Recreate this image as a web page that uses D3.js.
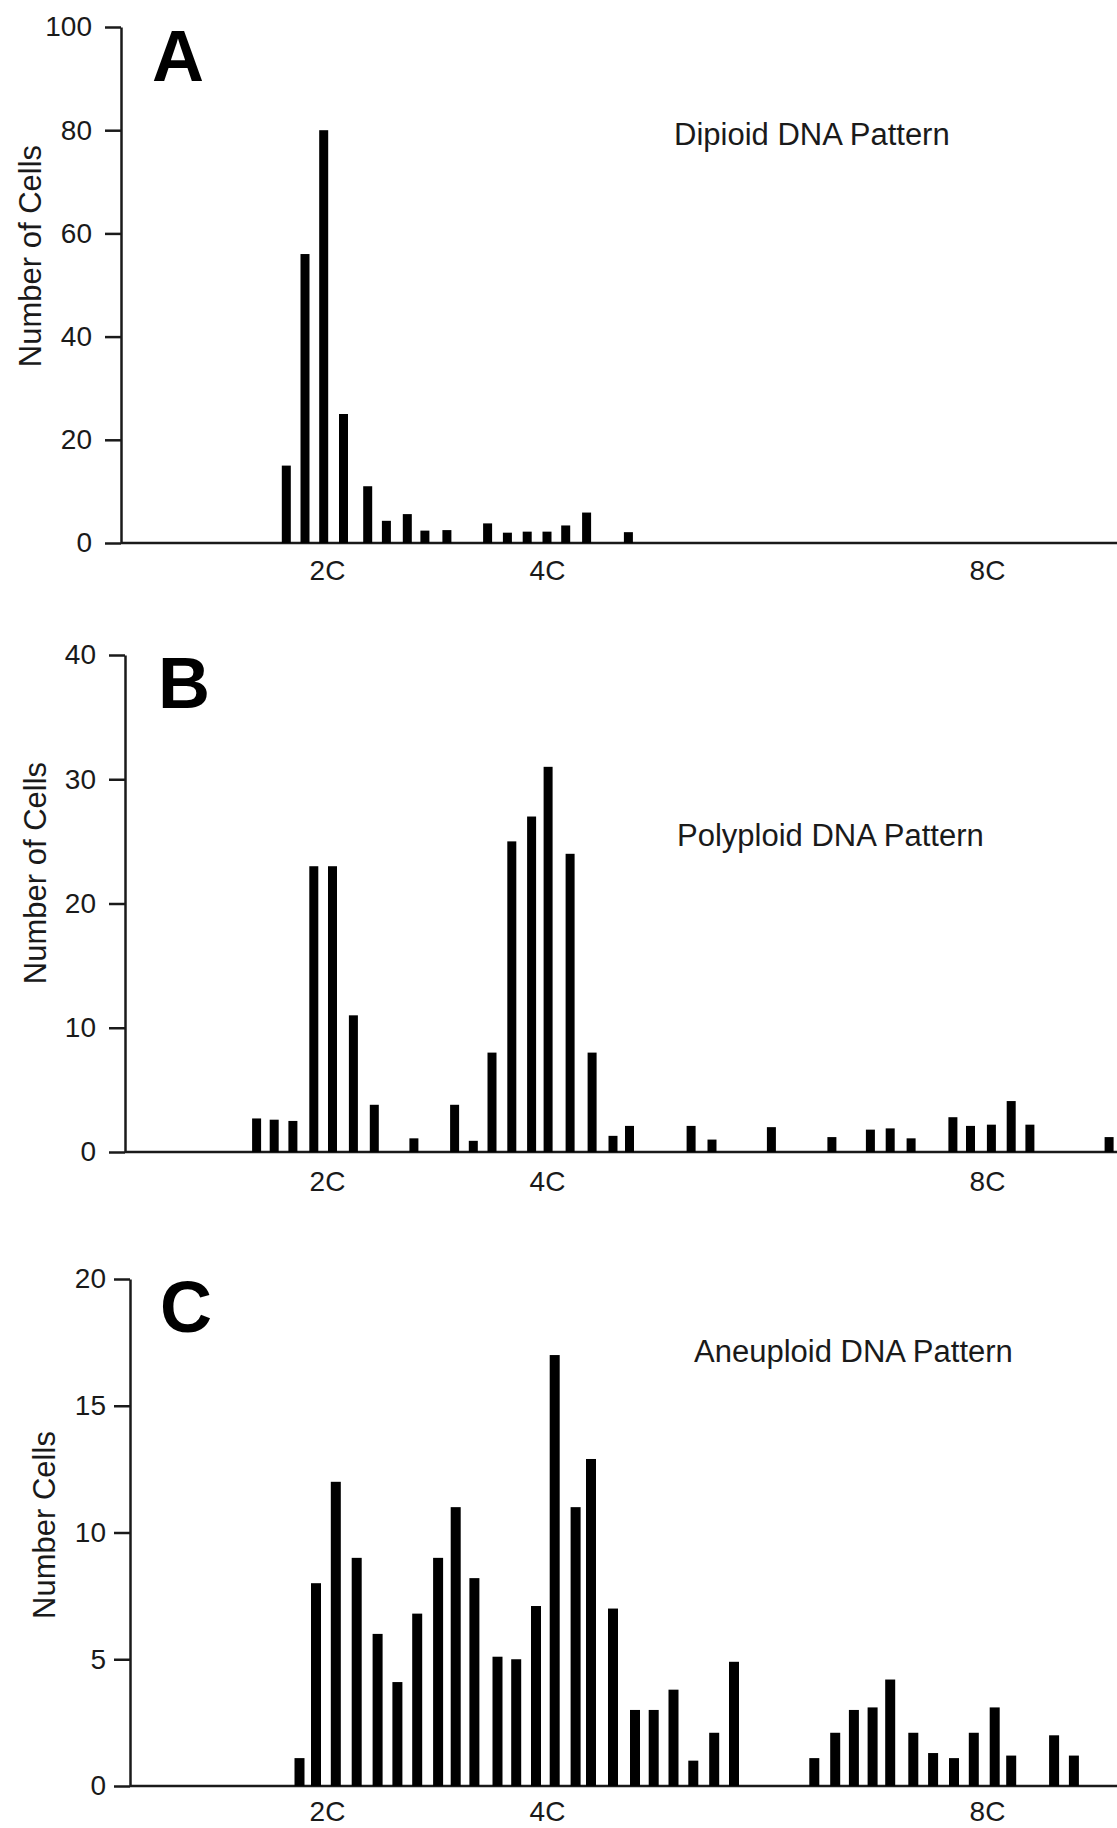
<!DOCTYPE html>
<html>
<head>
<meta charset="utf-8">
<script src="https://cdn.jsdelivr.net/npm/d3@7"></script>
<style>
  body { margin: 0; background: #fff; }
  svg { display: block; font-family: "Liberation Sans", Arial, Helvetica, sans-serif; }
</style>
</head>
<body>
<svg id="chart" width="1117" height="1828"></svg>
<script>
// DNA content (in C units) of each histogram bin and number of cells in it
var dnaA = [1.63, 1.80, 1.97, 2.15, 2.37, 2.54, 2.73, 2.89, 3.09, 3.46, 3.64, 3.82, 4.00, 4.17, 4.36, 4.74];
var cellsA = [15, 56, 80, 25, 11, 4.3, 5.6, 2.4, 2.5, 3.8, 2, 2.2, 2.2, 3.4, 5.9, 2.1];

var dnaB = [1.36, 1.52, 1.69, 1.88, 2.05, 2.24, 2.43, 2.79, 3.16, 3.33, 3.50, 3.68, 3.86, 4.01, 4.21, 4.41,
            4.60, 4.75, 5.31, 5.50, 6.04, 6.59, 6.94, 7.12, 7.31, 7.69, 7.85, 8.04, 8.22, 8.39, 9.11];
var cellsB = [2.7, 2.6, 2.5, 23, 23, 11, 3.8, 1.1, 3.8, 0.9, 8, 25, 27, 31, 24, 8,
              1.3, 2.1, 2.1, 1.0, 2.0, 1.2, 1.8, 1.9, 1.1, 2.8, 2.1, 2.2, 4.1, 2.2, 1.2];

var dnaC = [1.75, 1.90, 2.08, 2.27, 2.46, 2.64, 2.82, 3.01, 3.17, 3.34, 3.55, 3.72, 3.90, 4.07, 4.26, 4.40,
            4.60, 4.80, 4.97, 5.15, 5.33, 5.52, 5.70, 6.43, 6.62, 6.79, 6.96, 7.12, 7.33, 7.51, 7.70, 7.88,
            8.07, 8.22, 8.61, 8.79];
var cellsC = [1.1, 8, 12, 9, 6, 4.1, 6.8, 9, 11, 8.2, 5.1, 5, 7.1, 17, 11, 12.9,
              7, 3, 3, 3.8, 1.0, 2.1, 4.9, 1.1, 2.1, 3.0, 3.1, 4.2, 2.1, 1.3, 1.1, 2.1,
              3.1, 1.2, 2.0, 1.2];

var xTicks = [2, 4, 8];
var yTicksA = [0, 20, 40, 60, 80, 100];
var yTicksB = [0, 10, 20, 30, 40];
var yTicksC = [0, 5, 10, 15, 20];

var svg = d3.select("#chart");
var ink = "#1a1a1a";

// shared DNA-content scale (same for the three panels)
var x = d3.scaleLinear().domain([0, 9]).range([107, 1097]);

var panels = [
    { letter: "A", title: "Dipioid DNA Pattern", ylabel: "Number of Cells", dna: dnaA, cells: cellsA,
      ticks: yTicksA, axisX: 121, top: 27, base: 543, pad: 13, barW: 9,
      letterPos: [152, 81], titlePos: [674, 145], ylabelPos: [30, 256], xPad: 17 },
    { letter: "B", title: "Polyploid DNA Pattern", ylabel: "Number of Cells", dna: dnaB, cells: cellsB,
      ticks: yTicksB, axisX: 125, top: 655, base: 1152, pad: 13, barW: 9,
      letterPos: [158, 708], titlePos: [677, 846], ylabelPos: [35, 873], xPad: 19 },
    { letter: "C", title: "Aneuploid DNA Pattern", ylabel: "Number Cells", dna: dnaC, cells: cellsC,
      ticks: yTicksC, axisX: 130, top: 1279, base: 1786, pad: 8, barW: 10,
      letterPos: [160, 1332], titlePos: [694, 1362], ylabelPos: [44, 1525], xPad: 15 }
];

var drawPanel = function(p) {
    var y = d3.scaleLinear()
        .domain([0, d3.max(p.ticks)])
        .range([p.base, p.top]);
    var g = svg.append("g");

    // x axis: only the baseline and the 2C / 4C / 8C labels
    var xAxis = g.append("g")
        .attr("transform", "translate(0," + p.base + ")")
        .call(d3.axisBottom(x).tickValues(xTicks).tickSize(0).tickPadding(p.xPad)
            .tickFormat(function(d) { return d + "C"; }));
    xAxis.select(".domain")
        .attr("d", "M" + p.axisX + ",0H1117")
        .attr("stroke", ink)
        .attr("stroke-width", 2.5);
    xAxis.selectAll("text")
        .attr("fill", ink)
        .style("font-size", "28px");

    // y axis
    var yAxis = g.append("g")
        .attr("transform", "translate(" + p.axisX + ",0)")
        .call(d3.axisLeft(y).tickValues(p.ticks).tickSize(16).tickSizeOuter(0).tickPadding(p.pad));
    yAxis.select(".domain").attr("stroke", ink).attr("stroke-width", 2.5);
    yAxis.selectAll(".tick line").attr("stroke", ink).attr("stroke-width", 2.5);
    yAxis.selectAll("text")
        .attr("fill", ink)
        .style("font-size", "28px");

    // bars
    g.selectAll("rect.bar")
        .data(p.dna.map(function(d, i) { return { dna: d, n: p.cells[i] }; }))
        .enter()
        .append("rect")
        .attr("class", "bar")
        .attr("x", function(d) { return x(d.dna) - p.barW / 2; })
        .attr("y", function(d) { return y(d.n); })
        .attr("width", p.barW)
        .attr("height", function(d) { return p.base - y(d.n); })
        .attr("fill", "#000");

    g.append("text")
        .attr("x", p.letterPos[0])
        .attr("y", p.letterPos[1])
        .attr("font-size", 72)
        .attr("font-weight", "bold")
        .attr("fill", "#000")
        .text(p.letter);

    g.append("text")
        .attr("x", p.titlePos[0])
        .attr("y", p.titlePos[1])
        .attr("font-size", 31)
        .attr("fill", ink)
        .text(p.title);

    g.append("text")
        .attr("transform", "translate(" + p.ylabelPos[0] + "," + p.ylabelPos[1] + ") rotate(-90)")
        .attr("text-anchor", "middle")
        .attr("dy", "0.35em")
        .attr("font-size", 31)
        .attr("fill", ink)
        .text(p.ylabel);
};

panels.forEach(drawPanel);
</script>
</body>
</html>
